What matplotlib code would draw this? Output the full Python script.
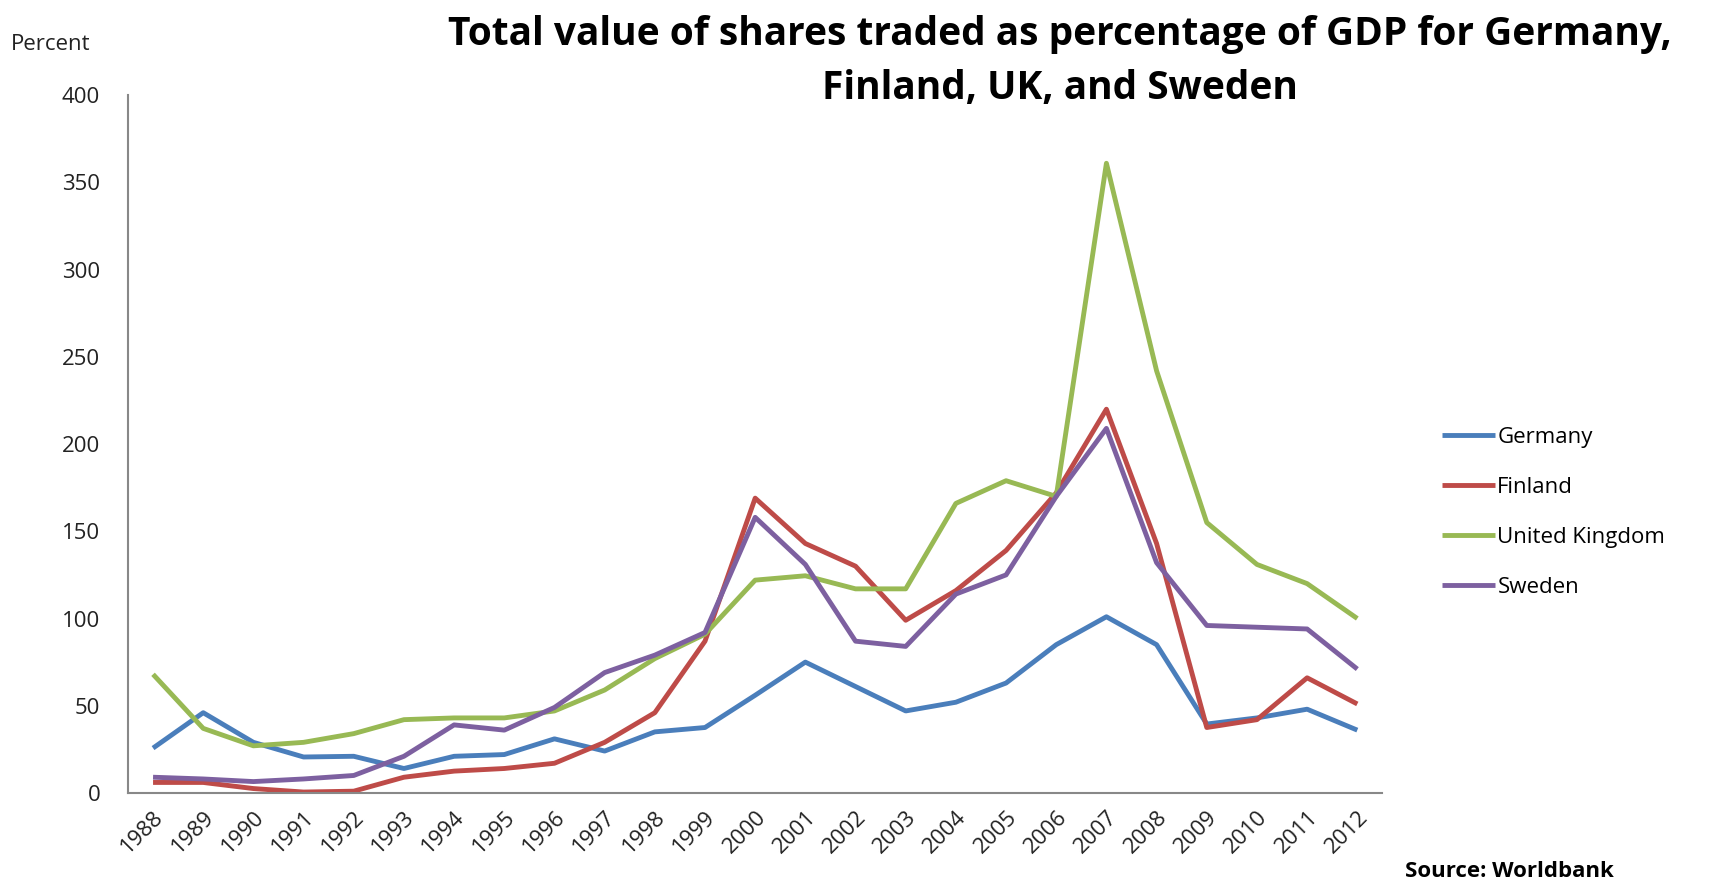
import matplotlib.pyplot as plt
import numpy as np

plt.rcParams['font.family'] = ['Open Sans', 'DejaVu Sans']

years = [str(y) for y in range(1988, 2013)]

germany = [25.7, 46, 29, 20.6, 21, 14, 21, 22, 31, 24, 35, 37.5, 56, 75, 61, 47,
           52, 63, 85, 101, 85, 39.5, 43, 48, 36]
finland = [6, 6, 2.5, 0.5, 1, 9, 12.5, 14, 17, 29, 46, 87, 169, 143, 130, 99,
           116, 139, 172, 220, 143, 37.5, 42, 66, 51]
uk = [68, 37, 27, 29, 34, 42, 43, 43, 47, 59, 77, 91, 122, 124.5, 117, 117,
      166, 179, 170, 361, 242, 155, 131, 120, 100]
sweden = [9, 8, 6.5, 8, 10, 21, 39, 36, 49, 69, 79, 92, 158, 131, 87, 84,
          114, 125, 170, 209, 132, 96, 95, 94, 71]

series = [("Germany", germany, "#4A7EBB"),
          ("Finland", finland, "#BE4B48"),
          ("United Kingdom", uk, "#98B954"),
          ("Sweden", sweden, "#7D60A0")]

fig = plt.figure(figsize=(17.13, 8.82), dpi=100)
ax = fig.add_axes([0.0747, 0.101, 0.7323, 0.791])

x = np.arange(len(years))
for name, vals, col in series:
    ax.plot(x, vals, color=col, lw=3.5, label=name, solid_capstyle='butt')

ax.set_xlim(-0.5, len(years) - 0.5)
ax.set_ylim(0, 400)
ax.set_yticks(range(0, 401, 50))
ax.set_xticks(x)
ax.set_xticklabels(years, rotation=45, ha='right', va='top', rotation_mode='anchor')
ax.tick_params(axis='both', length=0, labelsize=16, colors='#222222')
ax.tick_params(axis='y', pad=20)
ax.tick_params(axis='x', pad=10)

for s in ['top', 'right']:
    ax.spines[s].set_visible(False)
for s in ['left', 'bottom']:
    ax.spines[s].set_color('#888888')
    ax.spines[s].set_linewidth(1.5)

fig.text(0.0064, 0.949, "Percent", fontsize=16, color='#222222', va='center', ha='left')
fig.text(0.6186, 0.93, "Total value of shares traded as percentage of GDP for Germany,\nFinland, UK, and Sweden",
         fontsize=28, fontweight='bold', ha='center', va='center', linespacing=1.5)
fig.text(0.82, 0.0124, "Source: Worldbank", fontsize=16, fontweight='bold', ha='left', va='center')

ax.legend(loc='center left', bbox_to_anchor=(0.83, 0.419), bbox_transform=fig.transFigure,
          frameon=False, fontsize=16, handlelength=2.4, handletextpad=0.1, labelspacing=1.3)

fig.savefig("out.png", dpi=100)
